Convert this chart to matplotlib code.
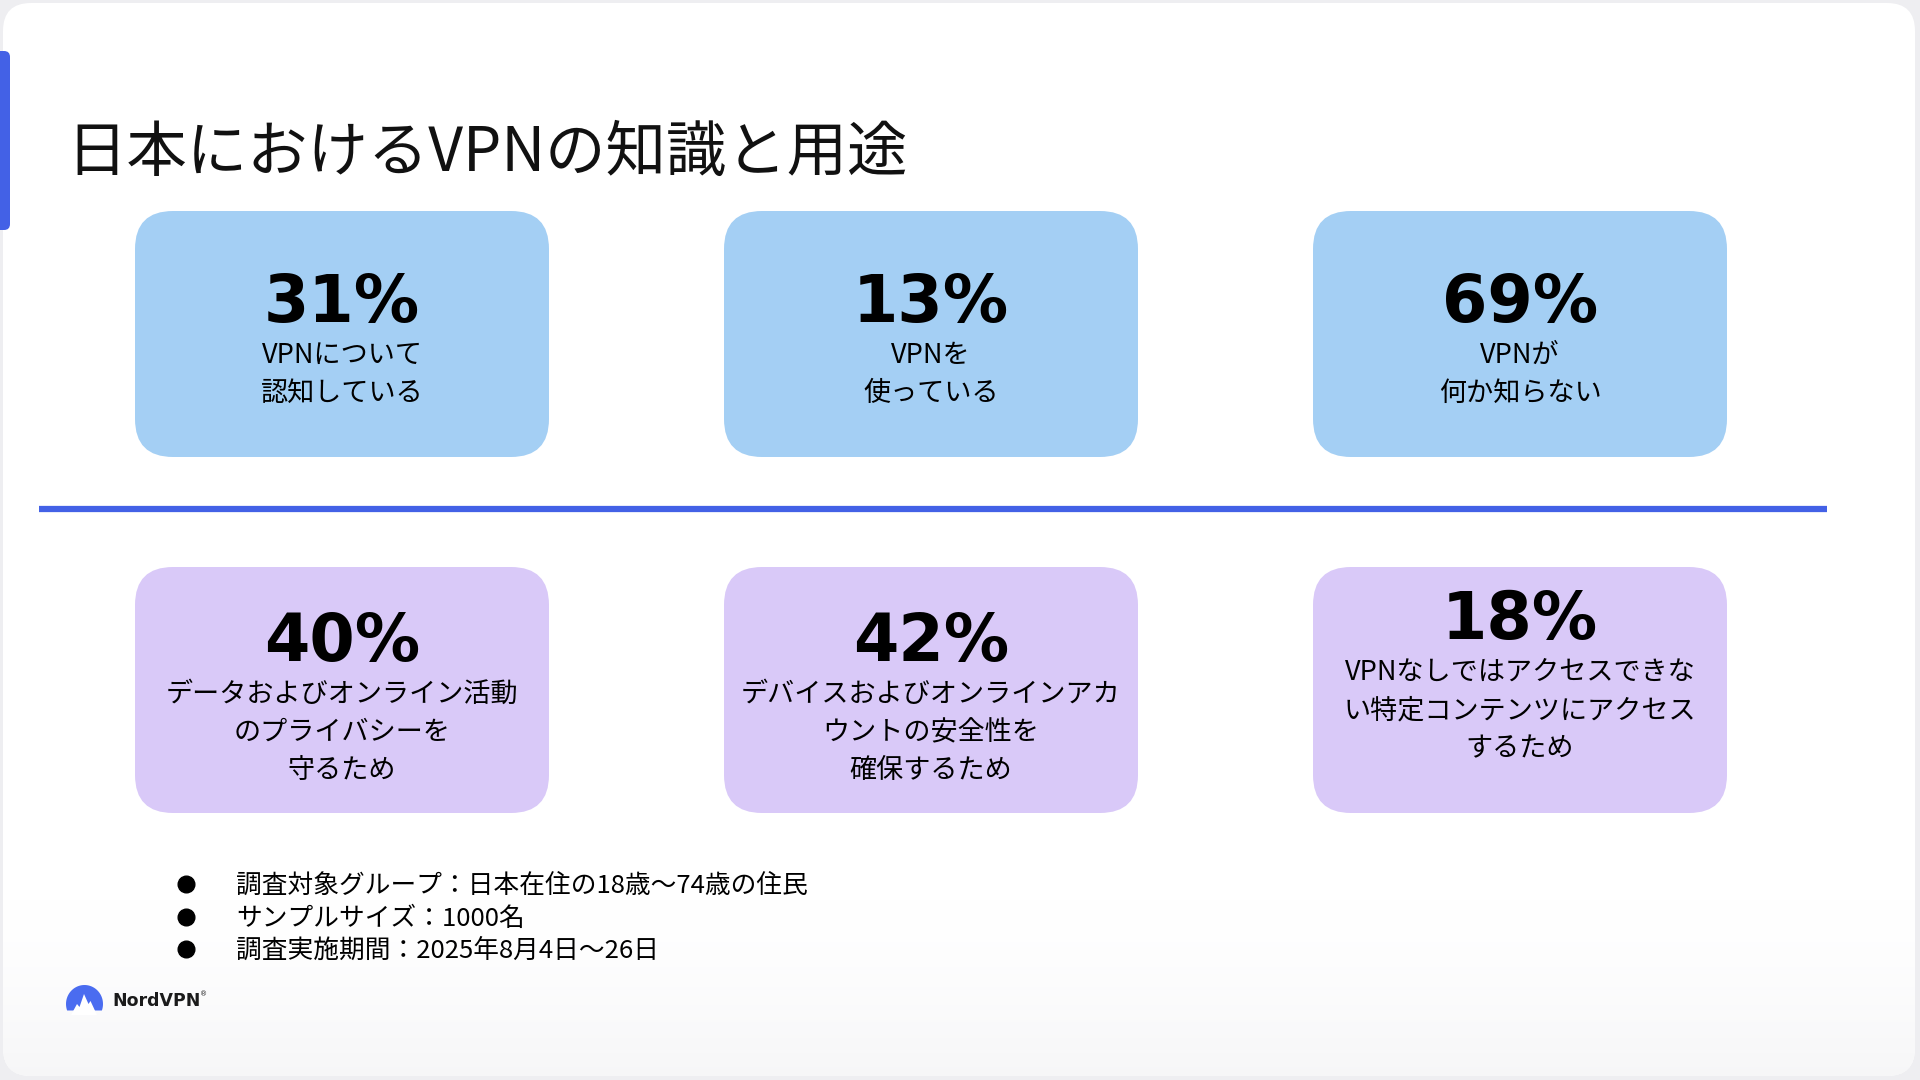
import numpy as np
import matplotlib.pyplot as plt
from matplotlib.patches import FancyBboxPatch, Polygon

# Data
title = '日本におけるVPNの知識と用途'
top_values = [31, 13, 69]
top_labels = [['VPNについて', '認知している'],
              ['VPNを', '使っている'],
              ['VPNが', '何か知らない']]
bottom_values = [40, 42, 18]
bottom_labels = [['データおよびオンライン活動', 'のプライバシーを', '守るため'],
                 ['デバイスおよびオンラインアカ', 'ウントの安全性を', '確保するため'],
                 ['VPNなしではアクセスできな', 'い特定コンテンツにアクセス', 'するため']]
notes = ['調査対象グループ：日本在住の18歳～74歳の住民',
         'サンプルサイズ：1000名',
         '調査実施期間：2025年8月4日～26日']

# Style
jp = ['Noto Sans CJK JP', 'DejaVu Sans']
accent = '#4361e6'
top_color = '#a4cff4'
bottom_color = '#d9c9f8'

W, H = 1920, 1080
fig = plt.figure(figsize=(19.2, 10.8), dpi=100, facecolor='#eeeef1')
ax = fig.add_axes([0, 0, 1, 1])
ax.set_xlim(0, W)
ax.set_ylim(H, 0)
ax.axis('off')

# white card with a soft grey fade at the bottom
card = FancyBboxPatch((3, 3), W - 8, H - 7, boxstyle='round,pad=0,rounding_size=28',
                      facecolor='white', edgecolor='none', zorder=0)
ax.add_patch(card)
grad = np.linspace(0, 1, 200)[:, None] ** 1.5
rgb = np.ones((200, 1, 3)) - grad[..., None] * np.array([0.035, 0.035, 0.03])
im = ax.imshow(rgb, extent=(0, W, H, 900), aspect='auto', zorder=0.5)
im.set_clip_path(card)

# left accent bar
ax.add_patch(FancyBboxPatch((-8, 51), 18, 179, boxstyle='round,pad=0,rounding_size=6',
                            facecolor=accent, edgecolor='none', zorder=1))

ax.text(66, 171, title, fontsize=43.5, family=jp, color='#111111', va='baseline', ha='left')

# boxes
box_x = [135, 724, 1313]
box_w, box_h = 414, 246
row_top = [211, 567]


def draw_box(x, y, color, value, lines, pct_base):
    ax.add_patch(FancyBboxPatch((x, y), box_w, box_h, boxstyle='round,pad=0,rounding_size=38',
                                facecolor=color, edgecolor='none', zorder=1))
    cx = x + box_w / 2
    ax.text(cx, y + pct_base, f'{value}%', fontsize=47, fontweight='bold',
            family='DejaVu Sans', ha='center', va='baseline', color='black', zorder=2)
    for i, line in enumerate(lines):
        ax.text(cx, y + pct_base + 41 + i * 38, line, fontsize=19.5, family=jp,
                ha='center', va='baseline', color='black', zorder=2)


for x, v, lab in zip(box_x, top_values, top_labels):
    draw_box(x, row_top[0], top_color, v, lab, 111)
for i, (x, v, lab) in enumerate(zip(box_x, bottom_values, bottom_labels)):
    draw_box(x, row_top[1], bottom_color, v, lab, 72 if i == 2 else 94)

# divider
ax.plot([39, 1827], [509, 509], color=accent, lw=4.5, solid_capstyle='butt', zorder=1)

# notes
for i, note in enumerate(notes):
    yb = 893 + i * 32.5
    ax.plot(186, yb - 9, 'o', ms=12, color='black', zorder=2)
    ax.text(236, yb, note, fontsize=18.5, family=jp, ha='left', va='baseline', color='black')

# logo
t = np.linspace(np.radians(-20), np.radians(200), 60)
dome = np.column_stack([84.5 + 18.5 * np.cos(t), 1004 - 19 * np.sin(t)])
ax.add_patch(Polygon(dome, closed=True, facecolor='#4a6cf0', edgecolor='none', zorder=2))
peaks = [(71, 1015), (77, 1004), (79.5, 1007), (84, 994), (88.5, 1004), (90.5, 1001), (97, 1015)]
ax.add_patch(Polygon(peaks, closed=True, facecolor='white', edgecolor='none', zorder=3))
ax.text(112, 1006, 'NordVPN', fontsize=12.5, fontweight='bold', family='DejaVu Sans',
        ha='left', va='baseline', color='#1b1b1b')
ax.text(200, 996, '®', fontsize=5, family='DejaVu Sans', ha='left', va='baseline', color='#1b1b1b')

fig.savefig('out.png', dpi=100, facecolor=fig.get_facecolor())
